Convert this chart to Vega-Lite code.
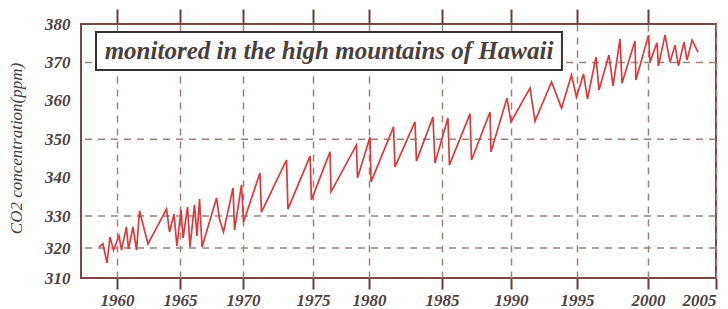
{
  "$schema": "https://vega.github.io/schema/vega-lite/v6.json",
  "width": 635,
  "height": 254,
  "autosize": {"type": "none"},
  "padding": {"left": 81, "top": 24, "right": 12, "bottom": 31},
  "background": "white",
  "config": {
    "view": {"stroke": "#7a4840", "strokeWidth": 2},
    "font": "Liberation Serif",
    "axis": {"labelFont": "Liberation Serif", "titleFont": "Liberation Serif"}
  },
  "datasets": {
    "co2": [
      {"year": 1958.55, "ppm": 320.3}, {"year": 1958.87, "ppm": 321.3}, {"year": 1959.19, "ppm": 315.0},
      {"year": 1959.44, "ppm": 323.4}, {"year": 1959.72, "ppm": 319.3}, {"year": 1960.16, "ppm": 323.8},
      {"year": 1960.36, "ppm": 319.3}, {"year": 1960.75, "ppm": 326.6}, {"year": 1960.91, "ppm": 319.7},
      {"year": 1961.27, "ppm": 326.6}, {"year": 1961.55, "ppm": 319.3}, {"year": 1961.79, "ppm": 331.3},
      {"year": 1962.46, "ppm": 321.3}, {"year": 1963.93, "ppm": 331.8}, {"year": 1964.17, "ppm": 325.0},
      {"year": 1964.52, "ppm": 330.5}, {"year": 1964.76, "ppm": 320.6}, {"year": 1965.08, "ppm": 331.6},
      {"year": 1965.24, "ppm": 323.1}, {"year": 1965.6, "ppm": 332.3}, {"year": 1965.79, "ppm": 320.3},
      {"year": 1966.15, "ppm": 332.9}, {"year": 1966.35, "ppm": 323.8}, {"year": 1966.55, "ppm": 334.4},
      {"year": 1966.75, "ppm": 320.3}, {"year": 1967.9, "ppm": 334.7}, {"year": 1968.13, "ppm": 329.1},
      {"year": 1968.45, "ppm": 325.0}, {"year": 1969.21, "ppm": 337.3}, {"year": 1969.33, "ppm": 325.6},
      {"year": 1969.88, "ppm": 338.1}, {"year": 1970.04, "ppm": 328.1}, {"year": 1971.21, "ppm": 341.2},
      {"year": 1971.32, "ppm": 331.0}, {"year": 1973.11, "ppm": 344.6}, {"year": 1973.21, "ppm": 331.8},
      {"year": 1974.79, "ppm": 345.6}, {"year": 1974.89, "ppm": 334.2}, {"year": 1976.52, "ppm": 346.7},
      {"year": 1976.61, "ppm": 336.3}, {"year": 1978.88, "ppm": 348.5}, {"year": 1978.97, "ppm": 339.9},
      {"year": 1980.07, "ppm": 350.6}, {"year": 1980.14, "ppm": 338.9}, {"year": 1981.68, "ppm": 353.2},
      {"year": 1981.78, "ppm": 342.8}, {"year": 1983.15, "ppm": 354.5}, {"year": 1983.25, "ppm": 344.3},
      {"year": 1984.38, "ppm": 355.8}, {"year": 1984.52, "ppm": 343.8}, {"year": 1985.43, "ppm": 355.5},
      {"year": 1985.54, "ppm": 343.3}, {"year": 1987.03, "ppm": 356.6}, {"year": 1987.14, "ppm": 344.6},
      {"year": 1988.48, "ppm": 357.1}, {"year": 1988.55, "ppm": 346.7}, {"year": 1989.71, "ppm": 360.7},
      {"year": 1990.0, "ppm": 354.5}, {"year": 1991.44, "ppm": 363.3}, {"year": 1991.82, "ppm": 354.7},
      {"year": 1993.07, "ppm": 364.9}, {"year": 1993.83, "ppm": 358.1}, {"year": 1994.58, "ppm": 366.7},
      {"year": 1994.96, "ppm": 361.0}, {"year": 1995.46, "ppm": 367.0}, {"year": 1995.74, "ppm": 360.5},
      {"year": 1996.34, "ppm": 371.4}, {"year": 1996.55, "ppm": 362.8}, {"year": 1997.25, "ppm": 371.9},
      {"year": 1997.54, "ppm": 363.9}, {"year": 1998.03, "ppm": 376.1}, {"year": 1998.17, "ppm": 364.6},
      {"year": 1999.08, "ppm": 375.6}, {"year": 1999.15, "ppm": 365.4}, {"year": 2000.04, "ppm": 377.1},
      {"year": 2000.15, "ppm": 370.1}, {"year": 2000.66, "ppm": 375.1}, {"year": 2000.77, "ppm": 369.1},
      {"year": 2001.25, "ppm": 377.1}, {"year": 2001.62, "ppm": 370.1}, {"year": 2001.99, "ppm": 374.5},
      {"year": 2002.24, "ppm": 369.1}, {"year": 2002.65, "ppm": 375.3}, {"year": 2002.87, "ppm": 370.6},
      {"year": 2003.24, "ppm": 375.8}, {"year": 2003.68, "ppm": 372.7}
    ],
    "hgrid": [{"ppm": 320}, {"ppm": 330}, {"ppm": 350}, {"ppm": 370}]
  },
  "layer": [
    {
      "data": {"name": "hgrid"},
      "mark": {"type": "rule", "color": "#9d827c", "strokeDash": [7, 6], "strokeWidth": 1.5},
      "encoding": {
        "y": {
          "field": "ppm", "type": "quantitative",
          "scale": {"domain": [310, 320, 330, 380], "range": [254, 224, 192, 0], "nice": false, "zero": false},
          "axis": {
            "orient": "left", "values": [310, 320, 330, 340, 350, 360, 370, 380],
            "grid": false, "ticks": false, "tickSize": 0, "domain": false,
            "labelFontSize": 17, "labelFontStyle": "italic", "labelFontWeight": "bold",
            "labelColor": "#4d4343", "labelPadding": 11,
            "title": "CO2 concentration(ppm)", "titleFontSize": 17, "titleFontStyle": "italic",
            "titleFontWeight": "normal", "titleColor": "#463c3c",
            "titleX": -65, "titleY": 124, "titleBaseline": "middle", "titleAngle": -90
          }
        }
      }
    },
    {
      "data": {"name": "co2"},
      "mark": {"type": "line", "color": "#e0393c", "strokeWidth": 1.7},
      "encoding": {
        "x": {
          "field": "year", "type": "quantitative",
          "scale": {"domain": [1957.1, 1960, 1965, 1970, 1975, 1980, 1985, 1990, 1995, 2000, 2005], "range": [0, 36, 99, 162, 232, 288, 361, 430, 496, 567, 635], "nice": false, "zero": false},
          "axis": {
            "orient": "bottom", "values": [1960, 1965, 1970, 1975, 1980, 1985, 1990, 1995, 2000, 2005],
            "format": "d", "grid": true, "gridDash": [7, 6], "gridColor": "#9d827c", "gridWidth": 1.5,
            "ticks": true, "tickSize": 11, "tickColor": "#6b3f38", "tickWidth": 2, "domain": false,
            "labelFontSize": 17, "labelFontStyle": "italic", "labelFontWeight": "bold",
            "labelColor": "#4d4343", "labelPadding": 3, "title": null
          }
        },
        "y": {"field": "ppm", "type": "quantitative", "axis": null}
      }
    },
    {
      "data": {"values": [{}]},
      "mark": {"type": "rect", "fill": "white", "stroke": "#3a3030", "strokeWidth": 2},
      "encoding": {
        "x": {
          "datum": 1958.31, "type": "quantitative",
          "axis": {
            "orient": "top", "values": [1960, 1965, 1970, 1975, 1980, 1985, 1990, 1995, 2000],
            "labels": false, "grid": false, "ticks": true, "tickSize": 15, "tickColor": "#6b3f38",
            "tickWidth": 2, "domain": false, "title": null
          }
        },
        "x2": {"datum": 1993.86},
        "y": {"datum": 377.9, "type": "quantitative", "axis": null},
        "y2": {"datum": 368.0}
      }
    },
    {
      "data": {"values": [{}]},
      "mark": {
        "type": "text", "text": "monitored in the high mountains of Hawaii",
        "font": "Liberation Serif", "fontSize": 25, "fontStyle": "italic", "fontWeight": "bold",
        "color": "#4a3f3f", "align": "center", "baseline": "middle"
      },
      "encoding": {
        "x": {"datum": 1976.43, "type": "quantitative", "axis": null},
        "y": {"datum": 373.0, "type": "quantitative", "axis": null}
      }
    }
  ],
  "resolve": {"axis": {"x": "independent", "y": "independent"}}
}
